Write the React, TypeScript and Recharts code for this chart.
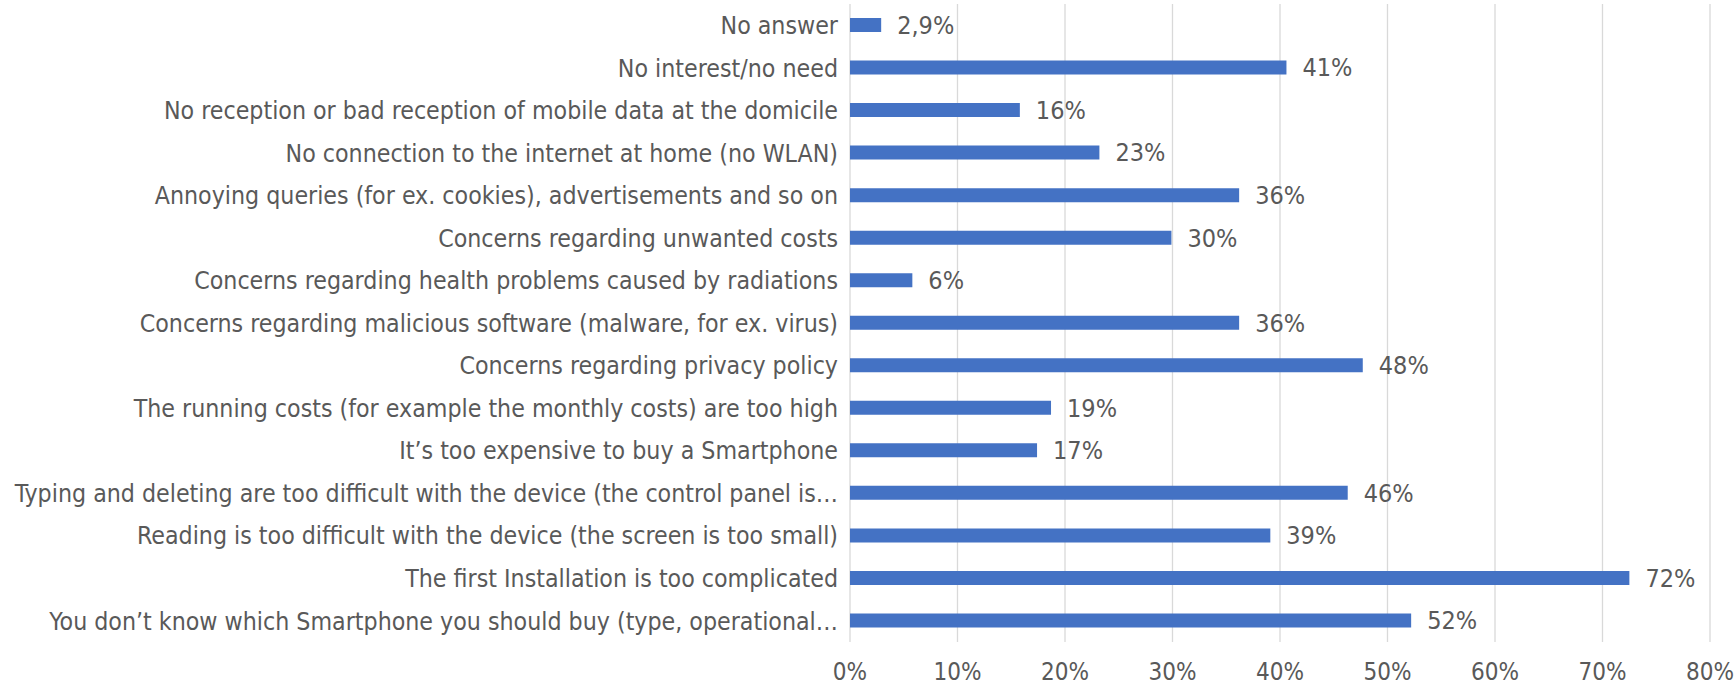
import React from "react";
import { BarChart, Bar, XAxis, YAxis, CartesianGrid, LabelList } from "recharts";

// reasons, top to bottom as in the survey chart
const reasons = [
  "No answer",
  "No interest/no need",
  "No reception or bad reception of mobile data at the domicile",
  "No connection to the internet at home (no WLAN)",
  "Annoying queries (for ex. cookies), advertisements and so on",
  "Concerns regarding unwanted costs",
  "Concerns regarding health problems caused by radiations",
  "Concerns regarding malicious software (malware, for ex. virus)",
  "Concerns regarding privacy policy",
  "The running costs (for example the monthly costs) are too high",
  "It\u2019s too expensive to buy a Smartphone",
  "Typing and deleting are too difficult with the device (the control panel is\u2026",
  "Reading is too difficult with the device (the screen is too small)",
  "The first  Installation is too complicated",
  "You don\u2019t know which Smartphone you should buy (type, operational\u2026",
];

const shares = [2.9, 40.6, 15.8, 23.2, 36.2, 29.9, 5.8, 36.2, 47.7, 18.7, 17.4, 46.3, 39.1, 72.5, 52.2];

const shareLabels = ["2,9%", "41%", "16%", "23%", "36%", "30%", "6%", "36%", "48%", "19%", "17%", "46%", "39%", "72%", "52%"];

const xTicks = [0, 10, 20, 30, 40, 50, 60, 70, 80];

const data = reasons.map((name, i) => ({ name, value: shares[i], label: shareLabels[i] }));

const FONT = "'DejaVu Sans Condensed', 'Liberation Sans Narrow', sans-serif";

export default function App() {
  return (
    <div style={{ position: "absolute", left: 0, top: 0, background: "#fff" }}>
      <BarChart
        width={1735}
        height={687}
        data={data}
        layout="vertical"
        margin={{ top: 4, right: 25, left: 0, bottom: 0 }}
        barSize={14}
      >
        <CartesianGrid horizontal={false} stroke="#d9d9d9" strokeWidth={1.3} />
        <XAxis
          type="number"
          domain={[0, 80]}
          ticks={xTicks}
          tickFormatter={(v) => `${v}%`}
          axisLine={false}
          tickLine={false}
          tickMargin={15}
          height={45}
          tick={{ fill: "#595959", fontSize: 24, fontFamily: FONT }}
        />
        <YAxis
          type="category"
          dataKey="name"
          width={850}
          axisLine={false}
          tickLine={false}
          tickMargin={6}
          interval={0}
          tick={{ fill: "#595959", fontSize: 24.7, fontFamily: FONT }}
        />
        <Bar dataKey="value" fill="#4472c4" isAnimationActive={false}>
          <LabelList
            dataKey="label"
            position="right"
            offset={16}
            fill="#595959"
            fontSize={25}
            fontFamily={FONT}
          />
        </Bar>
      </BarChart>
    </div>
  );
}
